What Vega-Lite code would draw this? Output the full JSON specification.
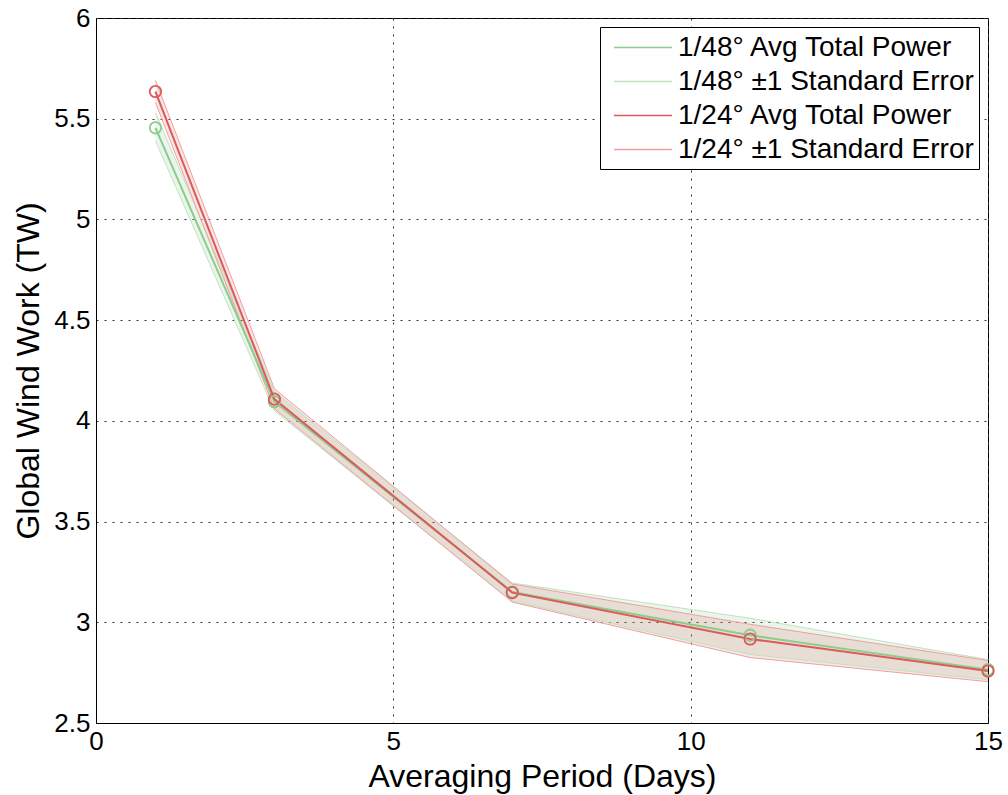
{
  "$schema": "https://vega.github.io/schema/vega-lite/v6.json",
  "autosize": "none",
  "width": 892,
  "height": 705,
  "padding": {"left": 96, "top": 18, "right": 20, "bottom": 72},
  "background": "white",
  "config": {
    "font": "Liberation Sans",
    "view": {"stroke": "black", "strokeWidth": 1},
    "axis": {
      "domainColor": "black",
      "gridColor": "#333333",
      "gridDash": [2, 6],
      "gridOpacity": 1,
      "gridWidth": 1,
      "ticks": false,
      "labelColor": "black",
      "labelFontSize": 26,
      "titleFontSize": 32,
      "titleFontWeight": "normal",
      "titleColor": "black"
    },
    "legend": {
      "orient": "top-right",
      "offset": 9,
      "padding": 5,
      "strokeColor": "black",
      "fillColor": "white",
      "cornerRadius": 0,
      "labelFontSize": 28,
      "labelColor": "black",
      "labelLimit": 400,
      "labelOffset": 42,
      "rowPadding": 4,
      "symbolSize": 841,
      "symbolStrokeWidth": 1.6,
      "symbolType": "M-0.45,0H3.55"
    }
  },
  "data": {
    "values": [
      {"x": 1, "res": "1/48°", "avgLabel": "1/48° Avg Total Power", "seLabel": "1/48° ±1 Standard Error", "avg": 5.455, "lo": 5.39, "hi": 5.53},
      {"x": 3, "res": "1/48°", "avgLabel": "1/48° Avg Total Power", "seLabel": "1/48° ±1 Standard Error", "avg": 4.095, "lo": 4.05, "hi": 4.145},
      {"x": 7, "res": "1/48°", "avgLabel": "1/48° Avg Total Power", "seLabel": "1/48° ±1 Standard Error", "avg": 3.15, "lo": 3.105, "hi": 3.195},
      {"x": 11, "res": "1/48°", "avgLabel": "1/48° Avg Total Power", "seLabel": "1/48° ±1 Standard Error", "avg": 2.936, "lo": 2.84, "hi": 3.02},
      {"x": 15, "res": "1/48°", "avgLabel": "1/48° Avg Total Power", "seLabel": "1/48° ±1 Standard Error", "avg": 2.765, "lo": 2.715, "hi": 2.815},
      {"x": 1, "res": "1/24°", "avgLabel": "1/24° Avg Total Power", "seLabel": "1/24° ±1 Standard Error", "avg": 5.635, "lo": 5.58, "hi": 5.69},
      {"x": 3, "res": "1/24°", "avgLabel": "1/24° Avg Total Power", "seLabel": "1/24° ±1 Standard Error", "avg": 4.108, "lo": 4.06, "hi": 4.16},
      {"x": 7, "res": "1/24°", "avgLabel": "1/24° Avg Total Power", "seLabel": "1/24° ±1 Standard Error", "avg": 3.147, "lo": 3.1, "hi": 3.19},
      {"x": 11, "res": "1/24°", "avgLabel": "1/24° Avg Total Power", "seLabel": "1/24° ±1 Standard Error", "avg": 2.917, "lo": 2.825, "hi": 2.99},
      {"x": 15, "res": "1/24°", "avgLabel": "1/24° Avg Total Power", "seLabel": "1/24° ±1 Standard Error", "avg": 2.758, "lo": 2.705, "hi": 2.81}
    ]
  },
  "encoding": {
    "x": {
      "field": "x", "type": "quantitative",
      "scale": {"domain": [0, 15], "nice": false, "zero": false},
      "axis": {"values": [0, 5, 10, 15], "title": "Averaging Period (Days)", "labelPadding": 5, "titlePadding": 7, "labelFlush": false}
    }
  },
  "layer": [
    {
      "mark": {"type": "area", "fillOpacity": 0.15, "strokeWidth": 0},
      "encoding": {
        "y": {"field": "lo", "type": "quantitative"},
        "y2": {"field": "hi"},
        "fill": {"field": "res", "type": "nominal", "scale": {"domain": ["1/48°", "1/24°"], "range": ["#78be78", "#d25a5a"]}, "legend": null}
      }
    },
    {
      "transform": [{"fold": ["lo", "hi"], "as": ["bound", "val"]}],
      "mark": {"type": "line", "strokeWidth": 1},
      "encoding": {
        "y": {"field": "val", "type": "quantitative"},
        "detail": {"field": "bound"},
        "color": {"field": "seLabel", "type": "nominal", "legend": {"title": null}}
      }
    },
    {
      "mark": {"type": "line", "strokeWidth": 2},
      "encoding": {
        "y": {"field": "avg", "type": "quantitative"},
        "color": {"field": "avgLabel", "type": "nominal"}
      }
    },
    {
      "mark": {"type": "point", "filled": false, "size": 130, "strokeWidth": 1.8, "opacity": 1},
      "encoding": {
        "y": {
          "field": "avg", "type": "quantitative",
          "scale": {"domain": [2.5, 6], "nice": false, "zero": false},
          "axis": {"values": [2.5, 3, 3.5, 4, 4.5, 5, 5.5, 6], "format": ".1~f", "title": "Global Wind Work (TW)", "labelPadding": 6, "titlePadding": 8, "labelFlush": false}
        },
        "color": {
          "field": "avgLabel", "type": "nominal",
          "scale": {
            "domain": ["1/48° Avg Total Power", "1/48° ±1 Standard Error", "1/24° Avg Total Power", "1/24° ±1 Standard Error"],
            "range": ["#8ccc8c", "#bfe3bf", "#dd5a5a", "#eea0a0"]
          },
          "legend": {"title": null}
        }
      }
    }
  ]
}
